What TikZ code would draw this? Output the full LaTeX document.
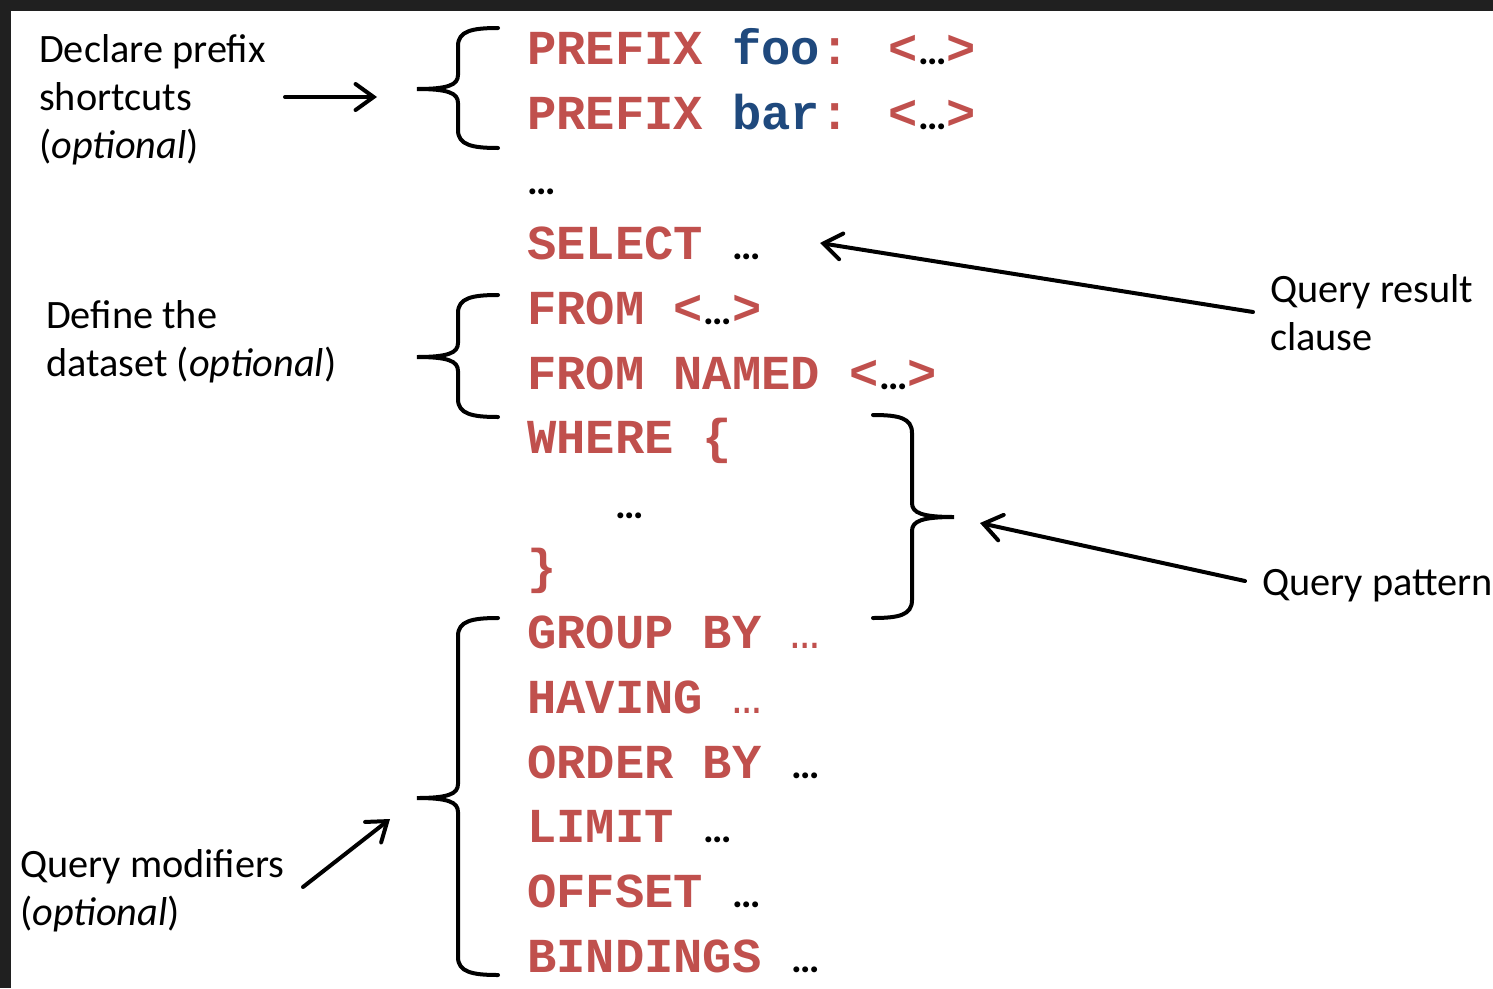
\documentclass[tikz,border=0pt]{standalone}
\usepackage{fontspec}
\setmainfont{Carlito}
\newfontfamily\codefont{Liberation Mono}
\usetikzlibrary{arrows.meta}
\definecolor{kwred}{HTML}{C0504D}
\definecolor{kwblue}{HTML}{1F497D}
\definecolor{bgdark}{HTML}{202020}
\newcommand\blkdots{\makebox[0.6em]{\normalfont\fontsize{40}{40}\selectfont\bfseries\color{black}…}}
\newcommand\reddots{\makebox[0.6em]{\mdseries\color{kwred}…}}
\newcommand\leftbr[3]{%
  \draw[bracepath] (498,#1) .. controls (472,#1) and (458,#1+3) .. (458,#1+18) -- (458,#2-14)
    .. controls (458,#2-4) and (448,#2) .. (417,#2)
    .. controls (448,#2) and (458,#2+4) .. (458,#2+14) -- (458,#3-18)
    .. controls (458,#3-3) and (472,#3) .. (498,#3);}
\begin{document}
\begin{tikzpicture}[x=1pt,y=-1pt,
  code/.style={anchor=base west, inner sep=0pt, font=\codefont\bfseries\fontsize{48.8}{50}\selectfont, text=kwred},
  lbl/.style={anchor=base west, inner sep=0pt, align=left, font=\fontsize{40.3}{48}\selectfont},
  bracepath/.style={line width=4pt, line cap=round},
  arr/.style={line width=4pt, line cap=round, -{Straight Barb[length=18pt,width=26pt,line cap=round]}}]
\useasboundingbox (0,0) rectangle (1493,988);
\fill[bgdark] (0,0) rectangle (1493,988);
\fill[white] (11,11) rectangle (1493,988);
% code lines
\node[code] (c0) at (527,64) {PREFIX \textcolor{kwblue}{foo}: <\blkdots>};
\node[code] (c1) at (527,129) {PREFIX \textcolor{kwblue}{bar}: <\blkdots>};
\node[code] (c2) at (527,194) {\blkdots};
\node[code] (c3) at (527,259) {SELECT \blkdots};
\node[code] (c4) at (527,324) {FROM <\blkdots>};
\node[code] (c5) at (527,389) {FROM NAMED <\blkdots>};
\node[code] (c6) at (527,453) {WHERE \{};
\node[code] (c7) at (527,518) {\phantom{XXX}\blkdots};
\node[code] (c8) at (527,583) {\}};
\node[code] (c9) at (527,648) {GROUP BY \reddots};
\node[code] (c10) at (527,713) {HAVING \reddots};
\node[code] (c11) at (527,778) {ORDER BY \blkdots};
\node[code] (c12) at (527,842) {LIMIT \blkdots};
\node[code] (c13) at (527,907) {OFFSET \blkdots};
\node[code] (c14) at (527,972) {BINDINGS \blkdots};
% braces
\leftbr{28}{89}{148}
\leftbr{295}{357}{417}
\leftbr{618}{798}{975}
\draw[bracepath] (873,415) .. controls (899,415) and (912,418) .. (912,433) -- (912,503)
    .. controls (912,513) and (922,517) .. (954,517)
    .. controls (922,517) and (912,521) .. (912,531) -- (912,600)
    .. controls (912,615) and (899,618) .. (873,618);
% labels (base anchor = baseline of last line)
\node[lbl] (l1) at (39,158) {Declare prefix\\shortcuts\\(\textit{optional})};
\node[lbl] (l2) at (46,376) {Define the\\dataset (\textit{optional})};
\node[lbl] (l3) at (1270,350) {Query result\\clause};
\node[lbl] (l4) at (1262,595) {Query pattern};
\node[lbl] (l5) at (20,925) {Query modifiers\\(\textit{optional})};
% arrows
\coordinate (a1s) at (285,97);
\coordinate (a1e) at (377,97);
\coordinate (a2s) at (1253,312);
\coordinate (a2e) at (820,243);
\coordinate (a3s) at (1245,581);
\coordinate (a3e) at (980,523);
\coordinate (a4s) at (303,887);
\coordinate (a4e) at (390,819);
\draw[arr] (a1s) -- (a1e);
\draw[arr] (a2s) -- (a2e);
\draw[arr] (a3s) -- (a3e);
\draw[arr] (a4s) -- (a4e);
\end{tikzpicture}
\end{document}
